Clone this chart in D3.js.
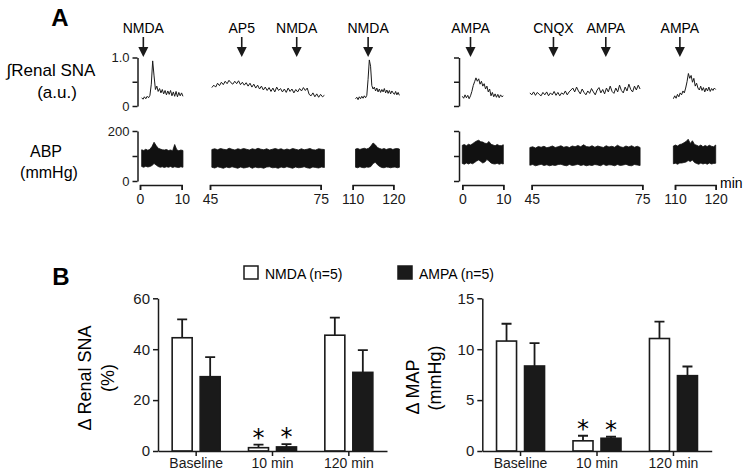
<!DOCTYPE html>
<html>
<head>
<meta charset="utf-8">
<script src="https://cdn.jsdelivr.net/npm/d3@7"></script>
<style>
  body { margin: 0; background: #fff; }
  svg, svg text { font-family: "Liberation Sans", Arial, sans-serif; }
</style>
</head>
<body>
<script>
// ---------- panel A data ----------
const blockMinutes = [[0, 10], [45, 75], [110, 120]];
const spanLeft = [[0.4, 10.3], [45.5, 76], [110.7, 121.5]];
const spanRight = [[0, 10], [44.5, 74.4], [109.6, 120]];

// integrated renal SNA (a.u.), NMDA experiment
const snaNmda0 = [0.17, 0.14, 0.19, 0.15, 0.2, 0.17, 0.22, 0.45, 0.93, 0.62, 0.34, 0.41, 0.3, 0.36, 0.27, 0.34, 0.25, 0.32, 0.23, 0.31, 0.24, 0.32, 0.21, 0.29, 0.2, 0.3, 0.19, 0.28, 0.21, 0.27, 0.2];
const snaNmda45 = [0.38, 0.43, 0.39, 0.47, 0.42, 0.49, 0.44, 0.51, 0.46, 0.53, 0.48, 0.45, 0.51, 0.46, 0.52, 0.44, 0.49, 0.43, 0.48, 0.41, 0.47, 0.39, 0.45, 0.37, 0.43, 0.35, 0.41, 0.33, 0.39, 0.32, 0.38, 0.3, 0.37, 0.29, 0.39, 0.32, 0.36, 0.29, 0.35, 0.28, 0.37, 0.3, 0.35, 0.27, 0.34, 0.29, 0.36, 0.31, 0.38, 0.32, 0.37, 0.24, 0.21, 0.27, 0.19, 0.25, 0.18, 0.24, 0.19, 0.22];
const snaNmda110 = [0.15, 0.18, 0.13, 0.19, 0.15, 0.2, 0.16, 0.21, 0.17, 0.22, 0.55, 0.95, 0.82, 0.42, 0.35, 0.39, 0.31, 0.37, 0.29, 0.35, 0.28, 0.34, 0.29, 0.36, 0.27, 0.33, 0.26, 0.32, 0.25, 0.31, 0.27, 0.24, 0.3, 0.23, 0.28, 0.22];
// integrated renal SNA (a.u.), AMPA experiment
const snaAmpa0 = [0.2, 0.16, 0.23, 0.17, 0.22, 0.15, 0.21, 0.3, 0.42, 0.5, 0.58, 0.51, 0.56, 0.45, 0.51, 0.41, 0.46, 0.35, 0.41, 0.29, 0.35, 0.21, 0.28, 0.19, 0.25, 0.18, 0.24, 0.17, 0.23, 0.19, 0.21];
const snaAmpa45 = [0.27, 0.23, 0.29, 0.22, 0.28, 0.24, 0.21, 0.28, 0.23, 0.29, 0.21, 0.27, 0.23, 0.3, 0.22, 0.28, 0.21, 0.27, 0.24, 0.31, 0.23, 0.29, 0.33, 0.37, 0.29, 0.39, 0.31, 0.25, 0.35, 0.28, 0.23, 0.31, 0.26, 0.36, 0.29, 0.23, 0.33, 0.38, 0.27, 0.34, 0.25, 0.37, 0.29, 0.41, 0.3, 0.26, 0.37, 0.29, 0.43, 0.32, 0.27, 0.39, 0.31, 0.45, 0.34, 0.29, 0.41, 0.33, 0.43, 0.35];
const snaAmpa110 = [0.15, 0.21, 0.16, 0.24, 0.19, 0.27, 0.23, 0.31, 0.27, 0.37, 0.5, 0.67, 0.57, 0.63, 0.49, 0.57, 0.41, 0.47, 0.37, 0.33, 0.41, 0.32, 0.38, 0.29, 0.37, 0.31, 0.39, 0.3, 0.36, 0.32, 0.37, 0.34];

// ABP envelope (mmHg): systolic top / diastolic bottom
const abpNmdaTop0 = [125, 122, 127, 123, 127, 138, 155, 142, 131, 128, 125, 124, 126, 122, 124, 121, 146, 125, 121, 124, 122];
const abpNmdaBot0 = [58, 55, 59, 56, 58, 62, 70, 64, 58, 55, 57, 54, 57, 55, 58, 54, 57, 55, 54, 57, 55];
const abpNmdaTop45 = [126, 129, 125, 130, 127, 125, 131, 127, 124, 129, 126, 130, 127, 124, 129, 126, 131, 127, 125, 129, 124, 127, 130, 126, 129, 124, 128, 125, 130, 127, 124, 129, 125, 127, 130, 125, 124, 129, 127, 126];
const abpNmdaBot45 = [55, 52, 57, 54, 51, 56, 53, 57, 54, 51, 56, 52, 54, 57, 51, 56, 53, 54, 51, 56, 57, 53, 54, 51, 56, 53, 57, 54, 51, 56, 53, 54, 57, 53, 51, 56, 54, 52, 56, 54];
const abpNmdaTop110 = [128, 130, 126, 129, 131, 128, 131, 140, 152, 145, 134, 130, 127, 130, 126, 129, 130, 126, 129, 130, 128];
const abpNmdaBot110 = [55, 53, 57, 54, 53, 56, 55, 58, 70, 75, 65, 58, 54, 53, 56, 55, 53, 55, 56, 53, 55];
const abpAmpaTop0 = [143, 146, 141, 147, 144, 149, 155, 160, 163, 157, 156, 151, 150, 158, 147, 144, 141, 146, 142, 141, 145];
const abpAmpaBot0 = [70, 67, 72, 68, 72, 69, 74, 80, 84, 78, 72, 76, 86, 80, 72, 69, 68, 71, 67, 70, 68];
const abpAmpaTop45 = [134, 137, 132, 138, 135, 139, 133, 136, 140, 134, 137, 141, 135, 138, 134, 140, 137, 142, 137, 145, 138, 136, 141, 135, 140, 137, 134, 141, 136, 139, 135, 143, 137, 134, 140, 136, 141, 135, 139, 134];
const abpAmpaBot45 = [63, 66, 61, 64, 67, 62, 65, 61, 64, 62, 66, 67, 63, 61, 66, 62, 64, 67, 62, 65, 61, 64, 62, 66, 64, 61, 67, 62, 65, 64, 61, 66, 62, 64, 67, 62, 61, 66, 64, 62];
const abpAmpaTop110 = [140, 144, 140, 146, 148, 153, 158, 167, 150, 161, 146, 143, 139, 144, 137, 142, 138, 143, 139, 137, 144];
const abpAmpaBot110 = [69, 71, 67, 72, 72, 74, 76, 82, 78, 84, 74, 70, 67, 72, 68, 71, 67, 72, 68, 70, 71];

const eventLabelsLeft = [["NMDA"], ["AP5", "NMDA"], ["NMDA"]];
const eventTimesLeft = [[0.8], [53.6, 68.5], [113.8]];
const eventLabelsRight = [["AMPA"], ["CNQX", "AMPA"], ["AMPA"]];
const eventTimesRight = [[2.0], [50.9, 65.1], [111.2]];

// ---------- panel B data ----------
const categories = ["Baseline", "10 min", "120 min"];
const groups = ["NMDA", "AMPA"];
const legendLabels = ["NMDA (n=5)", "AMPA (n=5)"];
const snaNmdaMean = [44.5, 1.3, 45.5];
const snaNmdaSem = [7.2, 1.2, 6.9];
const snaAmpaMean = [29.2, 1.6, 30.9];
const snaAmpaSem = [7.7, 1.1, 8.7];
const mapNmdaMean = [10.8, 1.0, 11.05];
const mapNmdaSem = [1.7, 0.5, 1.65];
const mapAmpaMean = [8.35, 1.25, 7.4];
const mapAmpaSem = [2.25, 0.15, 0.9];
const significant = [false, true, false];
const snaTicks = [0, 20, 40, 60];
const mapTicks = [0, 5, 10, 15];

const ink = "#1a1a1a";
const font = "'Liberation Sans', Arial, sans-serif";
const svg = d3.select("body").append("svg")
    .attr("width", 746)
    .attr("height", 473)
    .attr("font-family", font);

// ================= Panel A =================
svg.append("text").attr("x", 60).attr("y", 26)
    .attr("text-anchor", "middle").style("font-weight", "bold").style("font-size", "24px")
    .text("A");

svg.append("text").attr("x", 51).attr("y", 76).attr("text-anchor", "middle")
    .style("font-size", "17px").text("\u222BRenal SNA");
svg.append("text").attr("x", 57).attr("y", 98).attr("text-anchor", "middle")
    .style("font-size", "17px").text("(a.u.)");
svg.append("text").attr("x", 46).attr("y", 157).attr("text-anchor", "middle")
    .style("font-size", "16px").text("ABP");
svg.append("text").attr("x", 49).attr("y", 178).attr("text-anchor", "middle")
    .style("font-size", "16px").text("(mmHg)");

const snaY = d3.scaleLinear().domain([0, 1]).range([106, 57.5]);
const abpY = d3.scaleLinear().domain([0, 200]).range([181, 131]);

const leftRanges = [[140, 181.7], [210, 320.7], [352.7, 393.3]];
const rightRanges = [[462.3, 503.3], [531.7, 642.3], [675, 715.7]];

function sampleTimes(span, n) {
    const step = (span[1] - span[0]) / (n - 1);
    return d3.range(n).map(i => span[0] + i * step);
}

// axis container gets its own font attributes (d3 sets 10px sans-serif there)
function styleAxis(axisG, size) {
    axisG.attr("font-size", size).attr("font-family", font);
    axisG.selectAll(".domain, .tick line").attr("stroke", ink).attr("stroke-width", 1.5);
    axisG.selectAll(".tick text").attr("fill", ink).attr("font-size", size);
}

function drawSide(ranges, spans, snaTraces, abpTops, abpBots, labels, times, axisX, withLabels) {
    const g = svg.append("g");

    // y axes
    g.append("g").attr("transform", `translate(${axisX},0)`)
        .call(d3.axisLeft(snaY).tickValues([0, 0.5, 1]).tickSize(5).tickSizeOuter(0)
            .tickFormat(d => !withLabels ? "" : d === 0 ? "0" : d === 1 ? "1.0" : ""))
        .call(styleAxis, 13);
    g.append("g").attr("transform", `translate(${axisX},0)`)
        .call(d3.axisLeft(abpY).tickValues([0, 100, 200]).tickSize(5).tickSizeOuter(0)
            .tickFormat(d => !withLabels ? "" : d === 0 ? "0" : d === 200 ? "200" : ""))
        .call(styleAxis, 13);

    blockMinutes.forEach((dom, i) => {
        const x = d3.scaleLinear().domain(dom).range(ranges[i]);

        const sna = snaTraces[i];
        const st = sampleTimes(spans[i], sna.length);
        g.append("path")
            .datum(sna.map((v, k) => [st[k], v]))
            .attr("fill", "none").attr("stroke", ink).attr("stroke-width", 1)
            .attr("d", d3.line().x(d => x(d[0])).y(d => snaY(d[1])));

        const top = abpTops[i], bot = abpBots[i];
        const at = sampleTimes(spans[i], top.length);
        g.append("path")
            .datum(top.map((v, k) => [at[k], v, bot[k]]))
            .attr("fill", "#111").attr("stroke", "#111").attr("stroke-width", 0.8)
            .attr("d", d3.area().x(d => x(d[0])).y0(d => abpY(d[2])).y1(d => abpY(d[1])));

        // time bar
        g.append("g").attr("transform", "translate(0,185)")
            .call(d3.axisBottom(x).tickValues(dom).tickSize(5).tickSizeOuter(5).tickPadding(4))
            .call(styleAxis, 14);

        // drug arrows
        labels[i].forEach((lab, j) => {
            const ax = x(times[i][j]);
            g.append("text").attr("x", ax).attr("y", 33).attr("text-anchor", "middle")
                .style("font-size", "14px").text(lab);
            g.append("line").attr("x1", ax).attr("x2", ax).attr("y1", 37).attr("y2", 49)
                .attr("stroke", ink).attr("stroke-width", 1.6);
            g.append("path")
                .attr("d", `M${ax - 5},${47}L${ax + 5},${47}L${ax},${57}Z`)
                .attr("fill", ink);
        });
    });
}

drawSide(leftRanges, spanLeft,
    [snaNmda0, snaNmda45, snaNmda110],
    [abpNmdaTop0, abpNmdaTop45, abpNmdaTop110],
    [abpNmdaBot0, abpNmdaBot45, abpNmdaBot110],
    eventLabelsLeft, eventTimesLeft, 137.5, true);
drawSide(rightRanges, spanRight,
    [snaAmpa0, snaAmpa45, snaAmpa110],
    [abpAmpaTop0, abpAmpaTop45, abpAmpaTop110],
    [abpAmpaBot0, abpAmpaBot45, abpAmpaBot110],
    eventLabelsRight, eventTimesRight, 459, false);

svg.append("text").attr("x", 720).attr("y", 188).style("font-size", "14px").text("min");

// ================= Panel B =================
svg.append("text").attr("x", 61).attr("y", 285)
    .attr("text-anchor", "middle").style("font-weight", "bold").style("font-size", "24px")
    .text("B");

// legend
[[244, false], [398, true]].forEach(([lx, filled], i) => {
    svg.append("rect").attr("x", lx).attr("y", 266).attr("width", 14).attr("height", 13)
        .attr("fill", filled ? ink : "#fff").attr("stroke", ink).attr("stroke-width", 1.5);
    svg.append("text").attr("x", lx + 21).attr("y", 279).style("font-size", "14px")
        .text(legendLabels[i]);
});

function barChart(x0, x1, yMax, ticks, nmda, nmdaSem, ampa, ampaSem, title, unit, titleX, unitX, titleY) {
    const y = d3.scaleLinear().domain([0, yMax]).range([451, 298.3]);
    const xb = d3.scaleBand().domain(categories).range([x0, x1]);
    const xs = d3.scaleBand().domain(groups).range([-24, 24]).paddingInner(0.2857);
    const g = svg.append("g");

    const rows = [];
    categories.forEach((c, i) => {
        rows.push({ c, grp: "NMDA", v: nmda[i], e: nmdaSem[i], sig: significant[i] });
        rows.push({ c, grp: "AMPA", v: ampa[i], e: ampaSem[i], sig: significant[i] });
    });
    const cx = d => xb(d.c) + xb.bandwidth() / 2 + xs(d.grp) + xs.bandwidth() / 2;

    // error bars (upper only)
    g.selectAll(".err").data(rows).enter().append("path")
        .attr("fill", "none").attr("stroke", ink).attr("stroke-width", 1.8)
        .attr("d", d => `M${cx(d)},${y(d.v)}V${y(d.v + d.e)}M${cx(d) - 5},${y(d.v + d.e)}H${cx(d) + 5}`);

    g.selectAll(".bar").data(rows).enter().append("rect")
        .attr("x", d => cx(d) - xs.bandwidth() / 2)
        .attr("y", d => y(d.v))
        .attr("width", xs.bandwidth())
        .attr("height", d => y(0) - y(d.v))
        .attr("fill", d => d.grp === "NMDA" ? "#fff" : ink)
        .attr("stroke", ink).attr("stroke-width", 1.6);

    g.selectAll(".star").data(rows.filter(d => d.sig)).enter().append("text")
        .attr("x", d => cx(d)).attr("y", d => y(d.v + d.e) + 1)
        .attr("text-anchor", "middle")
        .style("font-family", "'DejaVu Sans', sans-serif").style("font-size", "24px")
        .text("*");

    g.append("g").attr("transform", "translate(0,451)")
        .call(d3.axisBottom(xb).tickSize(5).tickSizeOuter(0).tickPadding(2))
        .call(styleAxis, 14);
    g.append("g").attr("transform", `translate(${x0},0)`)
        .call(d3.axisLeft(y).tickValues(ticks).tickSize(5).tickSizeOuter(0))
        .call(styleAxis, 15);

    g.append("text").attr("transform", `translate(${titleX},${titleY}) rotate(-90)`)
        .attr("text-anchor", "middle").attr("dy", "0.35em").style("font-size", "18px").text(title);
    g.append("text").attr("transform", `translate(${unitX},378) rotate(-90)`)
        .attr("text-anchor", "middle").attr("dy", "0.35em").style("font-size", "18px").text(unit);
}

barChart(158, 387, 60, snaTicks, snaNmdaMean, snaNmdaSem, snaAmpaMean, snaAmpaSem,
    "\u0394 Renal SNA", "(%)", 85, 108, 378);
barChart(482.3, 711.7, 15, mapTicks, mapNmdaMean, mapNmdaSem, mapAmpaMean, mapAmpaSem,
    "\u0394 MAP", "(mmHg)", 413, 435, 387);
</script>
</body>
</html>
